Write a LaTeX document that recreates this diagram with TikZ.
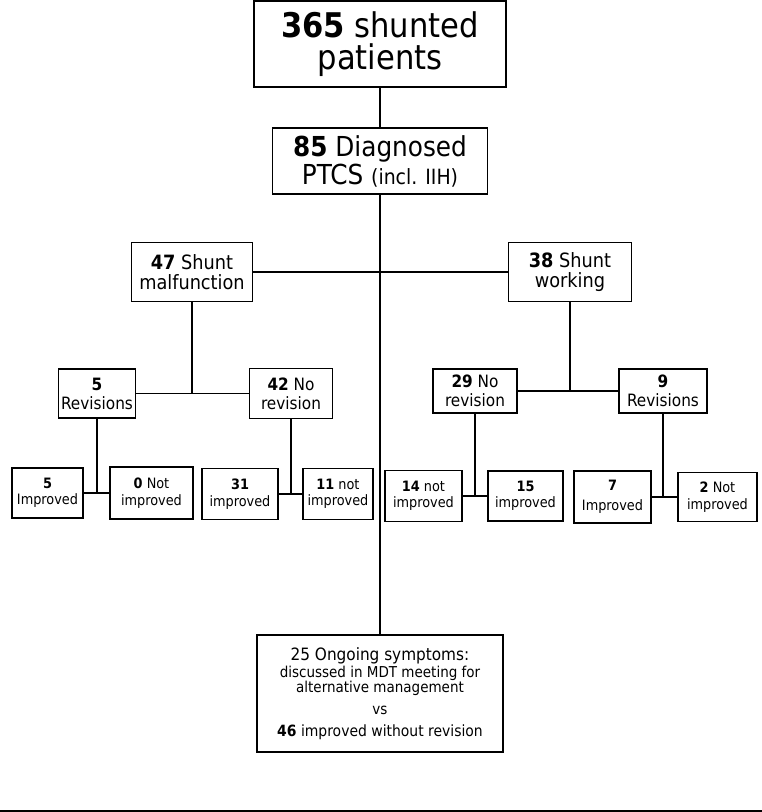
\documentclass[tikz,border=0pt]{standalone}
\usepackage{fontspec}
\setmainfont{DejaVu Sans Condensed}
\usepackage{tikz}
\usetikzlibrary{positioning,calc}
\tikzset{
  box/.style={draw=black, line width=1.8pt, fill=white, align=center, inner sep=0pt},
  topbox/.style={box, font=\fontsize{34}{32}\selectfont},
  diagbox/.style={box, font=\fontsize{27.5}{28}\selectfont},
  groupbox/.style={box, font=\fontsize{19.7}{20.5}\selectfont},
  armbox/.style={box, font=\fontsize{17}{19}\selectfont},
  leafbox/.style={box, font=\fontsize{14.3}{16.5}\selectfont},
  link/.style={draw=black, line width=1.8pt}
}
\newcommand{\cnt}[1]{\textbf{#1}}

\begin{document}
\begin{tikzpicture}[x=1pt, y=-1pt]
\useasboundingbox (0,0) rectangle (762,812);
% top of the tree
\node[topbox, minimum width=252pt, minimum height=86pt] (shunted) at (380,44) {\cnt{365} shunted\\patients};
\node[diagbox, minimum width=215pt, minimum height=66pt] (diag) at (380,161) {\cnt{85} Diagnosed\\PTCS {\fontsize{21}{22}\selectfont (incl. IIH)}};
\node[groupbox, minimum width=121pt, minimum height=59pt] (malf) at (192,272) {\cnt{47} Shunt\\malfunction};
\node[groupbox, minimum width=123pt, minimum height=59pt] (work) at (570,272) {\cnt{38} Shunt\\working};
% second level
\node[armbox, minimum width=77pt, minimum height=49pt] (malfrev) at (97,393.5) {\cnt{5}\\Revisions};
\node[armbox, minimum width=83pt, minimum height=50pt] (malfnorev) at (291,393.5) {\cnt{42} No\\revision};
\node[armbox, minimum width=84pt, minimum height=44pt] (worknorev) at (475,391) {\cnt{29} No\\revision};
\node[armbox, minimum width=88pt, minimum height=44pt] (workrev) at (663,391) {\cnt{9}\\Revisions};
% outcomes
\node[leafbox, minimum width=71pt, minimum height=50pt] (malfrevimp) at (47.5,493) {\cnt{5}\\Improved};
\node[leafbox, minimum width=83pt, minimum height=52pt] (malfrevnot) at (151.5,493) {\cnt{0} Not\\improved};
\node[leafbox, minimum width=76pt, minimum height=51pt] (malfnorevimp) at (240,494) {\cnt{31}\\improved};
\node[leafbox, minimum width=70pt, minimum height=51pt] (malfnorevnot) at (338,494) {\cnt{11} not\\improved};
\node[leafbox, minimum width=77pt, minimum height=51pt] (worknorevnot) at (423.5,496) {\cnt{14} not\\improved};
\node[leafbox, minimum width=75pt, minimum height=50pt] (worknorevimp) at (525.5,496) {\cnt{15}\\improved};
\node[leafbox, minimum width=77pt, minimum height=52pt] (workrevimp) at (612.5,497) {\cnt{7}\\[4pt]Improved};
\node[leafbox, minimum width=79pt, minimum height=49pt] (workrevnot) at (717.5,497) {\cnt{2} Not\\improved};
% summary
\node[box, minimum width=246pt, minimum height=117pt, font=\fontsize{15}{14}\selectfont] (ongoing) at (380,693.5)
  {{\fontsize{17}{18}\selectfont 25 Ongoing symptoms:}\\[1pt]discussed in MDT meeting for\\alternative management\\[8pt]
   {\fontsize{15}{16}\selectfont vs}\\[8pt]{\fontsize{15.5}{16}\selectfont \cnt{46} improved without revision}};

\draw[link] (shunted) -- (diag);
\draw[link] (diag.south) -- (diag.south |- ongoing.north);
\draw[link] (malf) -- (work);
\foreach \parent/\lchild/\rchild in {malf/malfrev/malfnorev, work/worknorev/workrev,
    malfrev/malfrevimp/malfrevnot, malfnorev/malfnorevimp/malfnorevnot,
    worknorev/worknorevnot/worknorevimp, workrev/workrevimp/workrevnot} {
  \draw[link] (\lchild) -- (\rchild);
  \draw[link] (\parent.south) -- (\parent.south |- \lchild.east);
}
\coordinate (rulel) at (0,811);
\coordinate (ruler) at (762,811);
\draw[link] (rulel) -- (ruler);
\end{tikzpicture}
\end{document}
